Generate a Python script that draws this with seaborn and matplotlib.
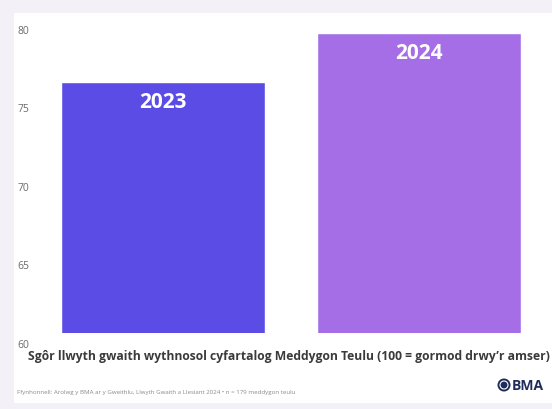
import matplotlib
matplotlib.use("Agg")
import matplotlib.pyplot as plt
import matplotlib.transforms as mtransforms
from matplotlib.patches import Rectangle, Ellipse
import seaborn as sns
import pandas as pd

# Average weekly workload score of GPs, by survey year
years = ["2023", "2024"]
scores = [76.0, 79.1]
bar_colors = ["#5b4ce6", "#a56ee6"]
y_ticks = [60, 65, 70, 75, 80]
y_tick_labels = ["60", "65", "70", "75", "80"]

title_text = "Sgôr llwyth gwaith wythnosol cyfartalog Meddygon Teulu (100 = gormod drwy’r amser)"
source_text = "Ffynhonnell: Arolwg y BMA ar y Gweithlu, Llwyth Gwaith a Llesiant 2024 • n = 179 meddygon teulu"

df = pd.DataFrame({"year": years, "score": scores})

sns.set_theme(style="white")
plt.rcParams["font.family"] = ["Open Sans", "DejaVu Sans"]

W, H = 552, 410
fig = plt.figure(figsize=(W / 100, H / 100), dpi=100)
fig.patch.set_facecolor("#f4f0f8")

# white card behind the chart
fig.patches.append(Rectangle((14 / W, 6 / H), 1 - 14 / W, (404 - 14) / H,
                             transform=fig.transFigure, facecolor="white",
                             edgecolor="none", zorder=-5))

ax = fig.add_axes([35 / W, 76 / H, 512 / W, 314 / H])
ax.set_facecolor("none")
ax.set_zorder(2)

sns.barplot(data=df, x="year", y="score", hue="year", palette=bar_colors,
            width=0.8, legend=False, ax=ax, saturation=1)

ax.set_xlim(-0.5, 1.5)
ax.set_ylim(60, 80)
ax.set_yticks(y_ticks)
ax.set_yticklabels(y_tick_labels)
ax.set_xticks([])
ax.set_xlabel("")
ax.set_ylabel("")
for s in ax.spines.values():
    s.set_visible(False)
ax.tick_params(axis="y", length=0, pad=4, labelsize=7.5, labelcolor="#6b6b6b")

# nudge y tick labels slightly below their gridline positions
offset = mtransforms.ScaledTranslation(0, -10 / 100, fig.dpi_scale_trans)
for lab in ax.get_yticklabels():
    lab.set_transform(lab.get_transform() + offset)

# year labels inside the top of each bar
for i, (yr, val) in enumerate(zip(years, scores)):
    ax.annotate(yr, (i, val), xytext=(0, -14), textcoords="offset points",
                ha="center", va="center", color="white", fontsize=15,
                fontweight="bold")

fig.text(289 / W, 1 - 357 / H, title_text, ha="center", va="center",
         fontsize=8.7, fontweight="bold", color="#3a3a3a")
fig.text(17 / W, 1 - 393 / H, source_text, ha="left", va="center",
         fontsize=4.4, color="#8a8a8a")

# BMA logo
fig.patches.append(Ellipse((504 / W, 1 - 386 / H), 13 / W, 13 / H,
                           transform=fig.transFigure, facecolor="#1f2d5a",
                           edgecolor="none", zorder=3))
fig.patches.append(Ellipse((504 / W, 1 - 386 / H), 8 / W, 8 / H,
                           transform=fig.transFigure, facecolor="none",
                           edgecolor="white", linewidth=0.8, zorder=4))
fig.text(512 / W, 1 - 386 / H, "BMA", ha="left", va="center",
         fontsize=10, fontweight="bold", color="#1f2d5a")

fig.savefig("out.png", dpi=100)
